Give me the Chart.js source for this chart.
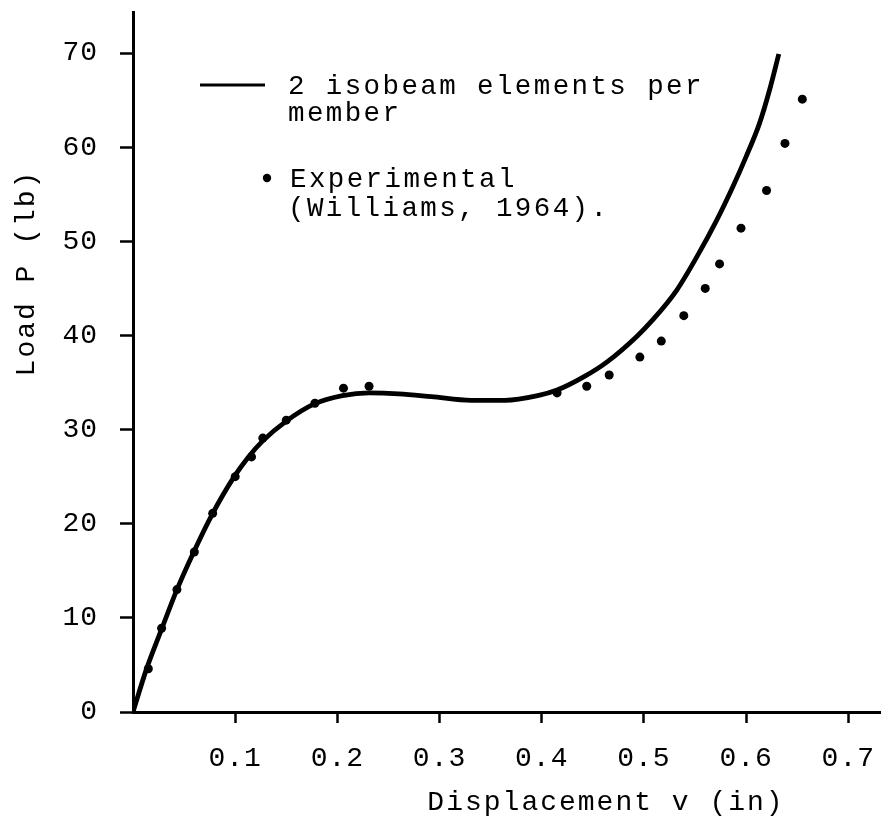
<!DOCTYPE html>
<html>
<head>
<meta charset="utf-8">
<script src="https://cdn.jsdelivr.net/npm/chart.js@4/dist/chart.umd.min.js"></script>
<style>
  html, body { margin: 0; padding: 0; background: #fff; }
  #c { display: block; }
</style>
</head>
<body>
<canvas id="c" width="885" height="821"></canvas>
<script>
// Finite-element solution: load P (lb) against displacement v (in)
const curveX = [0, 0.013, 0.028, 0.043, 0.059, 0.077, 0.099, 0.113, 0.127, 0.150, 0.177, 0.205, 0.231, 0.260, 0.292, 0.331, 0.364, 0.396, 0.415, 0.441, 0.464, 0.493, 0.509, 0.532, 0.552, 0.571, 0.587, 0.600, 0.613, 0.623, 0.632];
const curveY = [0, 4.5, 8.8, 13.0, 16.9, 20.9, 25.0, 27.1, 28.8, 30.9, 32.7, 33.6, 33.9, 33.8, 33.5, 33.1, 33.1, 33.6, 34.2, 35.6, 37.2, 39.9, 41.7, 44.8, 48.4, 52.2, 55.8, 59.0, 62.5, 66.1, 69.9];

// Experimental points (Williams, 1964)
const expX = [0.015, 0.028, 0.043, 0.060, 0.078, 0.100, 0.116, 0.127, 0.150, 0.178, 0.206, 0.231, 0.415, 0.444, 0.466, 0.496, 0.517, 0.539, 0.560, 0.574, 0.595, 0.620, 0.638, 0.655];
const expY = [4.6, 8.9, 13.0, 17.0, 21.1, 25.0, 27.1, 29.1, 31.0, 32.8, 34.4, 34.6, 33.9, 34.6, 35.8, 37.7, 39.4, 42.1, 45.0, 47.6, 51.4, 55.4, 60.4, 65.1];

const xTicks = [0.1, 0.2, 0.3, 0.4, 0.5, 0.6, 0.7];
const yTicks = [0, 10, 20, 30, 40, 50, 60, 70];

const seriesNames = ['2 isobeam elements per', 'member'];
const expNames = ['Experimental', '(Williams, 1964).'];
const xTitle = 'Displacement v (in)';
const yTitle = 'Load P (lb)';

const FONT = '"Liberation Mono", "DejaVu Sans Mono", monospace';
const INK = '#000';

const spacing = {
  id: 'spacing',
  beforeUpdate(chart) { chart.ctx.letterSpacing = '1px'; },
  beforeDraw(chart) { chart.ctx.letterSpacing = '1px'; }
};

// Key and axis titles
const notes = {
  id: 'notes',
  afterDraw(chart) {
    const ctx = chart.ctx;
    ctx.save();
    ctx.fillStyle = INK;
    ctx.strokeStyle = INK;
    ctx.letterSpacing = '2.4px';
    ctx.font = '27.5px ' + FONT;
    ctx.textBaseline = 'alphabetic';
    ctx.textAlign = 'left';

    // line sample
    ctx.lineWidth = 3;
    ctx.beginPath();
    ctx.moveTo(200, 85);
    ctx.lineTo(265, 85);
    ctx.stroke();
    ctx.fillText(seriesNames[0], 288, 94);
    ctx.fillText(seriesNames[1], 288, 121);

    // dot sample
    ctx.beginPath();
    ctx.arc(267, 178, 4.2, 0, Math.PI * 2);
    ctx.fill();
    ctx.fillText(expNames[0], 290, 187);
    ctx.fillText(expNames[1], 288, 216);

    // axis titles
    ctx.font = '28px ' + FONT;
    ctx.letterSpacing = '2px';
    ctx.textAlign = 'center';
    ctx.textBaseline = 'middle';
    ctx.fillText(xTitle, 606, 803);
    ctx.translate(27, 273);
    ctx.rotate(-Math.PI / 2);
    ctx.fillText(yTitle, 0, 0);
    ctx.restore();
  }
};

function fixPad(s) {
  s.paddingTop = 0;
  s.paddingBottom = 0;
  s.paddingLeft = 0;
  s.paddingRight = 0;
}

new Chart(document.getElementById('c'), {
  type: 'scatter',
  data: {
    datasets: [
      {
        label: seriesNames.join(' '),
        data: curveX.map((x, i) => ({ x, y: curveY[i] })),
        showLine: true,
        borderColor: INK,
        borderWidth: 4.8,
        cubicInterpolationMode: 'monotone',
        pointRadius: 0,
        order: 2
      },
      {
        label: expNames.join(' '),
        data: expX.map((x, i) => ({ x, y: expY[i] })),
        showLine: false,
        backgroundColor: INK,
        borderColor: INK,
        pointRadius: 4.5,
        pointBorderWidth: 0,
        order: 1
      }
    ]
  },
  options: {
    responsive: false,
    devicePixelRatio: 1,
    animation: false,
    layout: { padding: { top: 12, right: 0, left: 0, bottom: 0 } },
    plugins: { legend: { display: false }, tooltip: { enabled: false } },
    scales: {
      x: {
        type: 'linear',
        min: 0,
        max: 0.7315,
        afterBuildTicks: s => { s.ticks = xTicks.map(v => ({ value: v })); },
        afterFit: s => { s.height = 109; fixPad(s); },
        border: { display: true, color: INK, width: 3 },
        grid: { drawOnChartArea: false, drawTicks: true, tickLength: 11, tickWidth: 2.5, tickColor: INK },
        ticks: {
          color: INK,
          padding: 19,
          maxRotation: 0,
          autoSkip: false,
          font: { family: FONT, size: 28 },
          callback: v => v.toFixed(1)
        }
      },
      y: {
        type: 'linear',
        min: 0,
        max: 74.36,
        afterBuildTicks: s => { s.ticks = yTicks.map(v => ({ value: v })); },
        afterFit: s => { s.width = 133; fixPad(s); },
        border: { display: true, color: INK, width: 3 },
        grid: { drawOnChartArea: false, drawTicks: true, tickLength: 13, tickWidth: 2.5, tickColor: INK },
        ticks: {
          color: INK,
          padding: 22,
          autoSkip: false,
          font: { family: FONT, size: 28 },
          callback: v => String(v)
        }
      }
    }
  },
  plugins: [spacing, notes]
});
</script>
</body>
</html>
